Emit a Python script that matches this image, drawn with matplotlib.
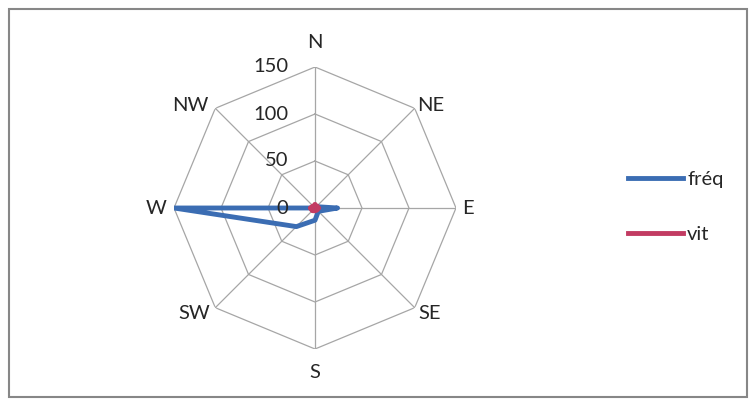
import numpy as np
import matplotlib
matplotlib.use("Agg")
import matplotlib.pyplot as plt
from matplotlib.patches import Rectangle
from matplotlib.lines import Line2D

directions = ["N", "NE", "E", "SE", "S", "SW", "W", "NW"]
freq = [0, 2, 24, 5, 13, 28, 150, 0]
vit = [3, 3, 4, 3, 3, 4, 5, 3]
rings = [0, 50, 100, 150]
ring_labels = ["0", "50", "100", "150"]

plt.rcParams['font.family'] = ['Lato', 'DejaVu Sans']
FS = 14.5
PX = 0.72  # points per pixel at dpi 100

fig = plt.figure(figsize=(7.5, 4.0), dpi=100)
fig.patch.set_facecolor('white')
fig.add_artist(Rectangle((9/750, 3/400), 738/750, 388/400, transform=fig.transFigure,
                         fill=False, edgecolor='#878787', linewidth=1.5))

cx, cy, R = 315/750, 1 - 208/400, 141
ax = fig.add_axes([cx - R/750, cy - R/400, 2*R/750, 2*R/400], projection='polar')
ax.set_theta_zero_location('N')
ax.set_theta_direction(-1)
ax.set_ylim(0, 150)
ax.axis('off')

n = len(directions)
theta = np.arange(n) * 2 * np.pi / n
theta_c = np.append(theta, theta[0])

grid_col = '#a6a6a6'
for r in rings[1:]:
    ax.plot(theta_c, [r] * (n + 1), color=grid_col, lw=0.9, zorder=1)
for t in theta:
    ax.plot([t, t], [0, rings[-1]], color=grid_col, lw=0.9, zorder=1)

blue = '#3b6db3'
red = '#c23b62'
ax.plot(theta_c, np.append(freq, freq[0]), color=blue, lw=3.5, zorder=3,
        solid_joinstyle='round')
ax.plot(theta_c, np.append(vit, vit[0]), color=red, lw=3.5, zorder=4,
        solid_joinstyle='round')

offsets = {"N": (0, 25), "NE": (16, 3), "E": (12, 0), "SE": (15, -6),
           "S": (0, -23), "SW": (-21, -6), "W": (-18, 0), "NW": (-25, 3)}
for t, d in zip(theta, directions):
    dx, dy = offsets[d]
    ax.annotate(d, xy=(t, rings[-1]), xytext=(dx * PX, dy * PX),
                textcoords='offset points', ha='center', va='center',
                fontsize=FS, color='#262626', annotation_clip=False)

for r, lab in zip(rings, ring_labels):
    ax.annotate(lab, xy=(0, r), xytext=(-27 * PX, 0), textcoords='offset points',
                ha='right', va='center', fontsize=FS, color='#262626',
                annotation_clip=False)

handles = [Line2D([], [], color=blue, lw=3.5), Line2D([], [], color=red, lw=3.5)]
leg = fig.legend(handles, ["fréq", "vit"], loc='center left',
                 bbox_to_anchor=(628/750, 1 - 207.2/400), frameon=False,
                 fontsize=FS, handlelength=55 / (FS / PX), handletextpad=0.2,
                 labelspacing=1.9, borderpad=0, borderaxespad=0)
for txt in leg.get_texts():
    txt.set_color('#262626')

fig.savefig('out.png', dpi=100, facecolor='white')
